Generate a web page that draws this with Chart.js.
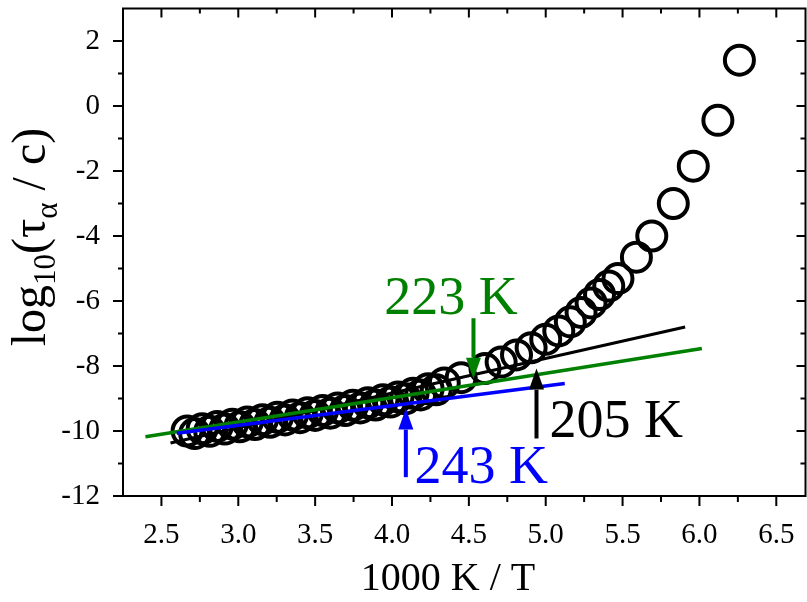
<!DOCTYPE html>
<html>
<head>
<meta charset="utf-8">
<script src="https://cdn.jsdelivr.net/npm/chart.js@4.4.1/dist/chart.umd.min.js"></script>
<style>
  html, body { margin: 0; padding: 0; background: #fff; overflow: hidden; }
  #wrap { width: 807px; height: 602px; position: relative; }
</style>
</head>
<body>
<div id="wrap"><canvas id="c" width="807" height="602"></canvas></div>
<script>
// Inverse temperature 1000 K / T and relaxation time log10(tau_alpha / s)
const invT = [
  2.667, 2.716, 2.765, 2.814, 2.863, 2.912, 2.961, 3.010, 3.059, 3.108,
  3.157, 3.206, 3.255, 3.304, 3.353, 3.402, 3.451, 3.500, 3.549, 3.598,
  3.647, 3.696, 3.745, 3.794, 3.843, 3.892, 3.941, 3.990, 4.039, 4.088,
  4.137, 4.186, 4.235, 4.288, 4.340, 4.450, 4.605, 4.710, 4.810, 4.905,
  5.000, 5.085, 5.160, 5.230, 5.295, 5.350, 5.410, 5.470, 5.590, 5.690,
  5.830, 5.960, 6.120, 6.260
];
const logTau = [
  -10.00, -10.08, -9.93, -10.01, -9.86, -9.94, -9.79, -9.87, -9.72, -9.80,
  -9.65, -9.73, -9.58, -9.66, -9.51, -9.59, -9.44, -9.52, -9.37, -9.45,
  -9.29, -9.37, -9.21, -9.29, -9.13, -9.20, -9.04, -9.11, -8.95, -9.01,
  -8.84, -8.89, -8.70, -8.73, -8.52, -8.36, -8.08, -7.88, -7.66, -7.44,
  -7.18, -6.92, -6.64, -6.35, -6.06, -5.80, -5.54, -5.31, -4.65, -4.00,
  -3.00, -1.85, -0.44, 1.41
];

// Arrhenius fits (end points)
const fit205X = [2.559, 5.907];
const fit205Y = [-10.37, -6.80];
const fit223X = [2.396, 6.016];
const fit223Y = [-10.18, -7.46];
const fit243X = [2.600, 5.124];
const fit243Y = [-10.07, -8.54];

// Crossover markers: label, arrow column, arrow tail / tip, label anchor
const markerLabels = ['223 K', '205 K', '243 K'];
const markerX      = [4.53, 4.94, 4.09];
const markerTail   = [-6.53, -10.23, -11.42];
const markerTip    = [-8.39, -8.08, -9.31];
const labelX       = [3.95, 5.025, 4.146];
const labelY       = [-6.39, -10.18, -11.61];
const markerColors = ['#008000', '#000000', '#0000ff'];

const xTicks = [2.5, 3.0, 3.5, 4.0, 4.5, 5.0, 5.5, 6.0, 6.5];
const yTicks = [-12, -10, -8, -6, -4, -2, 0, 2];

const SERIF = "'Liberation Serif', 'Times New Roman', serif";

const toPoints = (xs, ys) => xs.map((v, i) => ({ x: v, y: ys[i] }));

const fitLine = (xs, ys, color, width, order) => ({
  type: 'scatter',
  data: toPoints(xs, ys),
  showLine: true,
  borderColor: color,
  borderWidth: width,
  pointRadius: 0,
  fill: false,
  order: order
});

// Frame, outward/inward ticks, axis titles, arrows and labels
const decor = {
  id: 'decor',
  afterDatasetsDraw(chart) {
    const { ctx, chartArea: a, scales: { x, y } } = chart;
    ctx.save();
    ctx.strokeStyle = '#000';
    ctx.lineWidth = 2;
    ctx.strokeRect(a.left, a.top, a.right - a.left, a.bottom - a.top);

    const isMajor = (v, list) => list.some(t => Math.abs(t - v) < 1e-6);
    ctx.beginPath();
    for (let v = 2.25; v <= x.max + 1e-6; v += 0.25) {
      const px = x.getPixelForValue(v);
      if (px <= a.left + 1 || px >= a.right - 1) continue;
      const major = isMajor(v, xTicks);
      const out = major ? 10 : 6, inn = major ? 9 : 5;
      ctx.moveTo(px, a.bottom); ctx.lineTo(px, a.bottom + out);
      ctx.moveTo(px, a.top); ctx.lineTo(px, a.top + inn);
    }
    for (let v = -12; v <= 3; v += 1) {
      const py = y.getPixelForValue(v);
      if (py >= a.bottom - 1 && v !== -12) continue;
      if (py <= a.top + 1) continue;
      const major = isMajor(v, yTicks);
      const out = major ? 10 : 5, inn = major ? 9 : 5;
      ctx.moveTo(a.left, py); ctx.lineTo(a.left - out, py);
      if (py < a.bottom - 1) { ctx.moveTo(a.right, py); ctx.lineTo(a.right - inn, py); }
    }
    ctx.stroke();

    // arrows
    markerLabels.forEach((lab, i) => {
      const px = x.getPixelForValue(markerX[i]);
      const p0 = y.getPixelForValue(markerTail[i]);
      const p1 = y.getPixelForValue(markerTip[i]);
      const dir = Math.sign(p1 - p0);
      const headLen = 21, headHalf = 7.5;
      ctx.strokeStyle = markerColors[i];
      ctx.fillStyle = markerColors[i];
      ctx.lineWidth = 4;
      ctx.beginPath();
      ctx.moveTo(px, p0);
      ctx.lineTo(px, p1 - dir * headLen);
      ctx.stroke();
      ctx.beginPath();
      ctx.moveTo(px, p1);
      ctx.lineTo(px - headHalf, p1 - dir * headLen);
      ctx.lineTo(px + headHalf, p1 - dir * headLen);
      ctx.closePath();
      ctx.fill();

      ctx.font = '54px ' + SERIF;
      ctx.textAlign = 'left';
      ctx.textBaseline = 'alphabetic';
      ctx.fillText(lab, x.getPixelForValue(labelX[i]), y.getPixelForValue(labelY[i]));
    });

    // x axis title
    ctx.fillStyle = '#000';
    ctx.font = '40px ' + SERIF;
    ctx.textAlign = 'center';
    ctx.textBaseline = 'alphabetic';
    ctx.fillText('1000 K / T', 448, 590);

    // y axis title with subscripts, rotated
    const parts = [
      ['log', 48, 0], ['10', 31, 10], ['(\u03c4', 48, 0], ['\u03b1', 31, 12], [' / c)', 48, 0]
    ];
    let total = 0;
    parts.forEach(p => { ctx.font = p[1] + 'px ' + SERIF; total += ctx.measureText(p[0]).width; });
    ctx.translate(45, 237);
    ctx.rotate(-Math.PI / 2);
    ctx.textAlign = 'left';
    let cx = -total / 2;
    parts.forEach(p => {
      ctx.font = p[1] + 'px ' + SERIF;
      ctx.fillText(p[0], cx, p[2]);
      cx += ctx.measureText(p[0]).width;
    });
    ctx.restore();
  }
};

new Chart(document.getElementById('c'), {
  type: 'scatter',
  data: {
    datasets: [
      fitLine(fit205X, fit205Y, '#000000', 3, 3),
      fitLine(fit223X, fit223Y, '#008000', 3.5, 2),
      fitLine(fit243X, fit243Y, '#0000ff', 3.5, 1),
      {
        type: 'scatter',
        data: toPoints(invT, logTau),
        pointStyle: 'circle',
        pointRadius: 14.5,
        pointBorderWidth: 4,
        pointBorderColor: '#000',
        pointBackgroundColor: 'rgba(0,0,0,0)',
        order: 10
      }
    ]
  },
  options: {
    responsive: false,
    animation: false,
    events: [],
    layout: { autoPadding: false, padding: { top: 8.5, right: 1.5, left: 0, bottom: 0 } },
    plugins: { legend: { display: false }, tooltip: { enabled: false } },
    scales: {
      x: {
        type: 'linear',
        min: 2.25, max: 6.69,
        grid: { display: false },
        border: { display: false },
        afterBuildTicks: s => { s.ticks = xTicks.map(v => ({ value: v })); },
        afterFit: s => { s.height = 106; s.paddingLeft = 0; s.paddingRight = 0; },
        ticks: {
          padding: 14,
          color: '#000',
          font: { family: SERIF, size: 29 },
          callback: v => Number(v).toFixed(1),
          maxRotation: 0, autoSkip: false
        }
      },
      y: {
        type: 'linear',
        min: -12, max: 3,
        grid: { display: false },
        border: { display: false },
        afterBuildTicks: s => { s.ticks = yTicks.map(v => ({ value: v })); },
        afterFit: s => { s.width = 123; s.paddingTop = 0; s.paddingBottom = 0; },
        ticks: {
          padding: 15,
          color: '#000',
          font: { family: SERIF, size: 29 },
          callback: v => String(v),
          autoSkip: false
        }
      }
    }
  },
  plugins: [decor]
});
</script>
</body>
</html>
